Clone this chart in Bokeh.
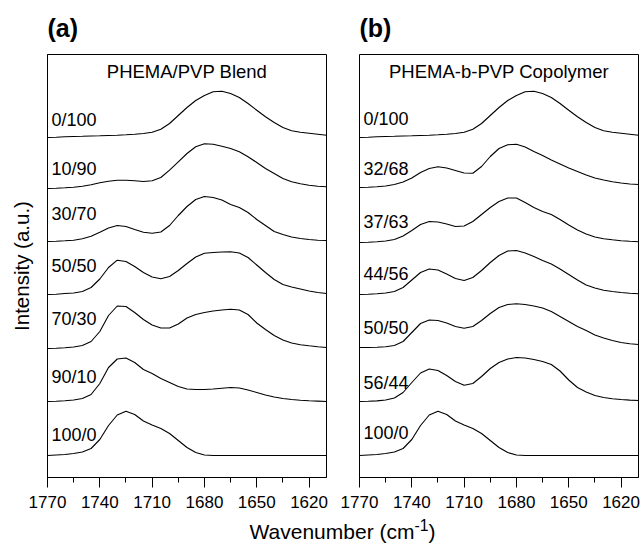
from bokeh.plotting import figure
from bokeh.models import Range1d, FixedTicker, Label, Div
from bokeh.layouts import row, column
from bokeh.embed import file_html
from bokeh.resources import INLINE

# ---------------- data ----------------
wavenumber = [1770, 1765, 1760, 1755, 1750, 1745, 1740, 1735, 1730, 1725, 1720,
              1715, 1710, 1705, 1700, 1695, 1690, 1685, 1680, 1675, 1670, 1665,
              1660, 1655, 1650, 1645, 1640, 1635, 1630, 1625, 1620, 1615, 1610]

x_ticks = [1770, 1740, 1710, 1680, 1650, 1620]
x_minor_ticks = [1755, 1725, 1695, 1665, 1635]

# PHEMA/PVP blend (a.u.)
blend_0_100 = [0, 0.3, 0.7, 1, 1.2, 1.5, 1.7, 2, 2.3, 2.7, 3.2, 4, 5.3, 8.3, 14, 22,
               30, 37, 42, 45.7, 46.3, 44, 40, 34, 27.3, 20.7, 15, 10, 6.7, 5.3, 4.3, 3.3, 2.3]
blend_10_90 = [0, 0.3, 0.7, 1.3, 2.3, 3.7, 5.7, 7.3, 8.3, 8.3, 7.7, 7, 7.7, 11, 18.3, 26.7,
               35, 41.7, 44.7, 44.3, 42.3, 40, 36.7, 31.7, 26, 20, 15, 10, 6.7, 4.7, 3.3, 2.3, 1.7]
blend_30_70 = [0, 0.3, 0.7, 1.3, 2.7, 5.3, 9.3, 13.5, 16, 15, 12, 9.3, 8.3, 9.5, 16, 26,
               35, 42, 45, 44, 41.5, 37, 34, 29, 22, 16, 10, 7, 4.5, 3, 2, 1.3, 1]
blend_50_50 = [0, 0.3, 1, 1.5, 3, 7, 15.5, 27, 34.3, 33, 28, 22, 17.5, 15.8, 18, 24,
               31, 37.5, 41.2, 42, 42.5, 42.8, 41.5, 37, 29.5, 22, 15, 10, 7.5, 5.5, 3.5, 2, 1]
blend_70_30 = [0, 0.3, 0.8, 1.5, 3, 7, 17, 33, 42.5, 42, 36, 29, 23.5, 20.5, 20.5, 24.5,
               30.5, 34, 36, 37.5, 38.5, 39.3, 38.5, 34, 25.5, 19, 13, 8.5, 5.5, 3.8, 2.7, 1.7, 1]
blend_90_10 = [0, 0.3, 0.8, 1.5, 3, 7, 18, 34, 42.5, 43.5, 39, 32, 28, 23, 19, 15,
               12.5, 12, 12, 12.5, 13.3, 14, 13.5, 11.5, 9, 6.5, 4.5, 3, 2, 1.3, 0.8, 0.4, 0]
blend_100_0 = [0, 0.5, 1, 2, 3.5, 7, 16, 30, 40.5, 44.3, 41, 34.5, 30.5, 27, 22, 15,
               8, 3, 0.5, 0, 0, 0, 0, 0, 0, 0, 0, 0, 0, 0, 0, 0, 0]

# PHEMA-b-PVP copolymer (a.u.)
copo_0_100 = blend_0_100
copo_32_68 = [0, 0.3, 0.8, 1.5, 3, 5.5, 9.5, 15, 19, 20.7, 19.5, 17, 14.5, 14.3, 21, 31,
              39, 42.8, 43.2, 40.5, 36, 32, 27.5, 23.5, 19.5, 16, 12.5, 9.5, 7.5, 5.8, 4.5, 3.5, 3]
copo_37_63 = [0, 0.3, 0.8, 1.5, 3, 6.5, 12, 18, 21, 20.5, 18.5, 16, 16.5, 21, 28, 35,
              41, 44.5, 44.5, 40, 35, 31, 28, 23, 17.5, 12.5, 8.5, 5.5, 3.7, 2.7, 1.8, 1.2, 0.8]
copo_44_56 = [0, 0.3, 0.8, 1.5, 3, 7, 14.5, 22, 25.5, 24.5, 20.5, 16, 14, 17, 24, 32,
              39, 43.5, 44, 41.5, 38, 34, 30.5, 25.5, 20, 14.5, 9.5, 6.5, 4.3, 3, 2, 1.3, 0.8]
copo_50_50 = [0, 0, 0.3, 0.7, 2, 6, 15, 24, 27.5, 27, 24.5, 21, 19.2, 21, 27, 34,
              40, 43, 43.8, 43, 41.5, 39.5, 36, 31, 26, 21, 17, 12.5, 9.5, 7, 5, 3.8, 3]
copo_56_44 = [0, 0.2, 0.6, 1.5, 3.5, 9, 19, 28.5, 32.5, 31, 26, 20, 16.2, 18, 25, 33,
              39, 42.5, 44, 43.5, 42, 40, 37, 30.5, 21.5, 14, 9.5, 6, 4, 2.8, 2, 1.4, 1]
copo_100_0 = blend_100_0

blend_labels = ["0/100", "10/90", "30/70", "50/50", "70/30", "90/10", "100/0"]
blend_curves = [blend_0_100, blend_10_90, blend_30_70, blend_50_50,
                blend_70_30, blend_90_10, blend_100_0]
blend_offsets = [318, 267, 214, 161, 107, 54, 0]
blend_label_y = [336, 287, 242, 190, 137, 79, 21]

copo_labels = ["0/100", "32/68", "37/63", "44/56", "50/50", "56/44", "100/0"]
copo_curves = [copo_0_100, copo_32_68, copo_37_63, copo_44_56,
               copo_50_50, copo_56_44, copo_100_0]
copo_offsets = [318, 268, 213, 161, 108, 54, 0]
copo_label_y = [337, 287, 234, 182, 128, 73, 23]

FONT = "Liberation Sans"


def make_panel(tag, header, labels, curves, offsets, label_y, left_border, right_border, ylabel):
    p = figure(width=left_border + 279 + right_border, height=54 + 423 + 40,
               x_range=Range1d(1770, 1610), y_range=Range1d(-22, 401),
               output_backend="svg", toolbar_location=None,
               min_border_left=left_border, min_border_right=right_border,
               min_border_top=54, min_border_bottom=40)
    p.grid.visible = False
    p.outline_line_color = "black"
    p.outline_line_width = 1
    p.background_fill_color = "white"
    p.border_fill_color = "white"

    p.title.text = tag
    p.title.text_font = FONT
    p.title.text_font_size = "25px"
    p.title.text_font_style = "bold"
    p.title.text_color = "black"
    p.title.align = "left"
    p.title.vertical_align = "top"
    p.title.standoff = 22

    xa = p.xaxis[0]
    xa.ticker = FixedTicker(ticks=x_ticks, minor_ticks=x_minor_ticks)
    xa.major_tick_in = 0
    xa.major_tick_out = 10
    xa.minor_tick_in = 0
    xa.minor_tick_out = 5
    xa.major_label_text_font = FONT
    xa.major_label_text_font_size = "17px"
    xa.major_label_text_color = "black"
    xa.major_label_standoff = 8
    xa.axis_line_color = "black"
    xa.major_tick_line_color = "black"
    xa.minor_tick_line_color = "black"

    ya = p.yaxis[0]
    if ylabel:
        ya.ticker = FixedTicker(ticks=[])
        ya.major_tick_line_color = None
        ya.minor_tick_line_color = None
        ya.major_label_standoff = 0
        ya.axis_label = ylabel
        ya.axis_label_text_font = FONT
        ya.axis_label_text_font_size = "20.5px"
        ya.axis_label_text_font_style = "normal"
        ya.axis_label_text_color = "black"
        ya.axis_label_standoff = 15
        ya.axis_line_color = "black"
    else:
        ya.visible = False

    for curve, off in zip(curves, offsets):
        p.line(wavenumber, [off + v for v in curve], line_color="black", line_width=1.1)

    for lab, ly in zip(labels, label_y):
        p.add_layout(Label(x=1767.7, y=ly, text=lab, text_align="left", text_baseline="middle",
                           text_font=FONT, text_font_size="18px", text_color="black"))

    p.add_layout(Label(x=1690, y=384, text=header, text_align="center", text_baseline="middle",
                       text_font=FONT, text_font_size="18.5px", text_color="black"))
    return p


pa = make_panel("(a)", "PHEMA/PVP Blend", blend_labels, blend_curves, blend_offsets,
                blend_label_y, 47, 10, "Intensity (a.u.)")
pb = make_panel("(b)", "PHEMA-b-PVP Copolymer", copo_labels, copo_curves, copo_offsets,
                copo_label_y, 23, 5, None)

xlabel = Div(text='Wavenumber (cm<sup style="line-height:0;font-size:0.75em">-1</sup>)',
             width=567, height=28, margin=(0, 0, 0, 59),
             styles={"font-family": FONT, "font-size": "21px", "text-align": "center",
                     "line-height": "30px", "color": "black"})

layout = column(row(pa, pb), xlabel)

open("out.html", "w").write(file_html(layout, INLINE))
